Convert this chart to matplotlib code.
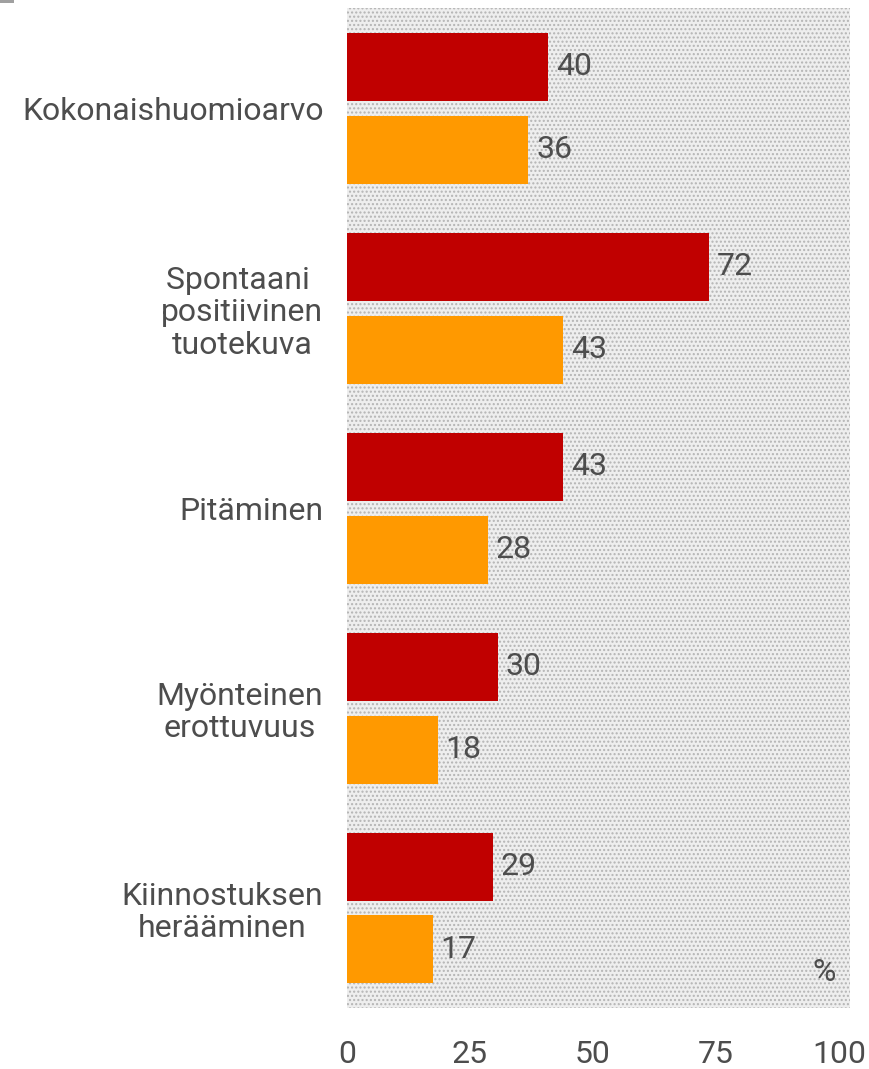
import matplotlib
matplotlib.use("Agg")
import matplotlib.pyplot as plt
from matplotlib.patches import Rectangle
import matplotlib.transforms as mtransforms
import numpy as np

categories = ["Kokonaishuomioarvo", "Spontaani \npositiivinen\ntuotekuva",
              "Pitäminen", "Myönteinen\nerottuvuus", "Kiinnostuksen\nherääminen"]
series_a = [40, 72, 43, 30, 29]
series_b = [36, 43, 28, 18, 17]
xticks = [0, 25, 50, 75, 100]

plt.rcParams['font.family'] = ['Roboto', 'DejaVu Sans']
plt.rcParams['hatch.linewidth'] = 1.0
txt = '#4d4d4d'
fs = 23

fig = plt.figure(figsize=(8.7, 10.69), dpi=100)
ax = fig.add_axes([347/870, 1 - 1008/1069, 503/870, 1000/1069])

bg = Rectangle((0, 0), 1, 1, transform=ax.transAxes, facecolor='#eeeeee',
               edgecolor='#b4b4b4', linewidth=0, hatch='....', zorder=0)
ax.add_patch(bg)

y = np.arange(len(categories))
off = 0.2075
h = 0.34
ax.barh(y - off, series_a, height=h, color='#c00000', zorder=2)
ax.barh(y + off, series_b, height=h, color='#ff9900', zorder=2)

for yi, v in zip(y - off, series_a):
    ax.text(v + 1.6, yi, str(v), va='center', ha='left', fontsize=fs, color=txt, zorder=3)
for yi, v in zip(y + off, series_b):
    ax.text(v + 1.6, yi, str(v), va='center', ha='left', fontsize=fs, color=txt, zorder=3)

ax.set_xlim(0, 100)
ax.set_ylim(4.5, -0.5)
ax.set_xticks(xticks)
ax.set_xticklabels([str(t) for t in xticks], fontsize=fs, color=txt)
ax.set_yticks(y)
ax.set_yticklabels(categories, fontsize=fs, color=txt, multialignment='center',
                   linespacing=1.15)
ax.tick_params(axis='both', length=0)
ax.tick_params(axis='x', pad=23)
ax.tick_params(axis='y', pad=17)
for s in ax.spines.values():
    s.set_visible(False)

# slight leftward shift of x tick labels, growing towards the right end
for t, lab in zip(xticks, ax.get_xticklabels()):
    shift_in = -0.11 * t / 100.0
    lab.set_transform(lab.get_transform() +
                      mtransforms.ScaledTranslation(shift_in, 0, fig.dpi_scale_trans))

ax.text(0.972, 0.021, "%", transform=ax.transAxes, ha='right', va='bottom',
        fontsize=fs, color=txt, zorder=3)

fig.add_artist(Rectangle((0, 1 - 3/1069), 14/870, 3/1069, transform=fig.transFigure,
                         facecolor='#a0a0a0', edgecolor='none'))

fig.savefig("out.png", dpi=100)
